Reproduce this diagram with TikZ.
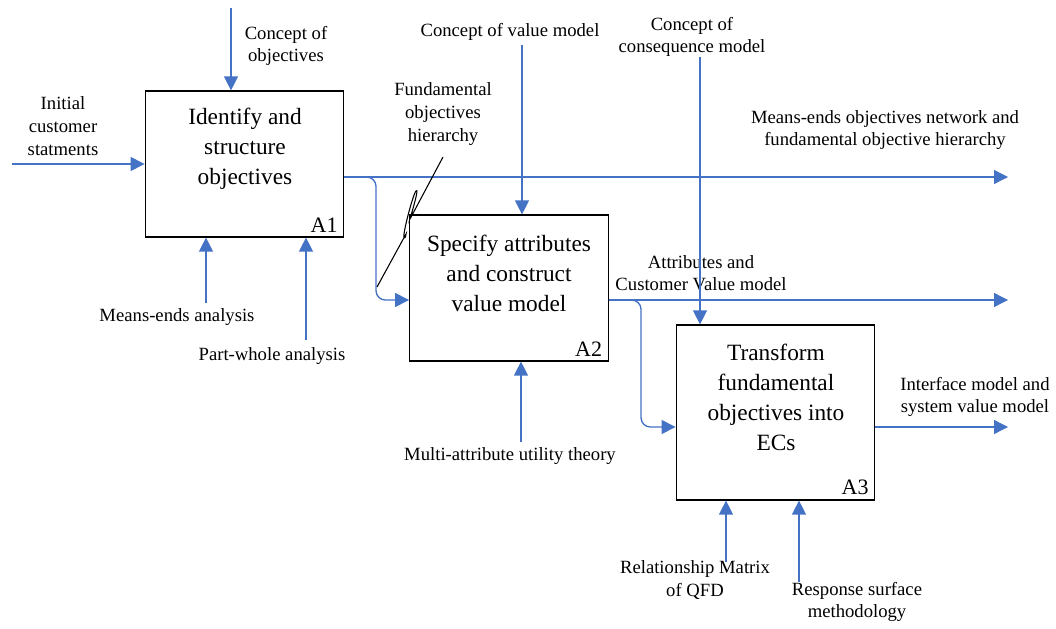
\documentclass[tikz,border=0pt]{standalone}
\usepackage{fontspec}
\setmainfont{Liberation Serif}
\usepackage{xcolor}
\usepackage{tikz}
\usetikzlibrary{arrows.meta}
\definecolor{idefblue}{RGB}{68,114,196}

\begin{document}
\begin{tikzpicture}[
  x=0.75pt, y=-0.75pt,
  procbox/.style={rectangle, draw=black, line width=0.9pt, minimum width=149pt},
  boxtitle/.style={align=center, font=\fontsize{17.5}{22.5}\selectfont},
  boxid/.style={anchor=south east, inner xsep=5pt, inner ysep=4pt, font=\fontsize{16.5}{18}\selectfont},
  lbl/.style={align=center, font=\fontsize{14}{17}\selectfont},
  flow/.style={-{Triangle[length=10.5pt,width=10.5pt]}, line width=1pt, color=idefblue},
  squiggle/.style={line width=0.8pt, color=black}
]
  \useasboundingbox (0,0) rectangle (1056,628);

  % activity boxes
  \node[procbox, minimum height=109.5pt] (A1) at (244.5,164) {};
  \node[procbox, minimum height=109.5pt] (A2) at (509,288) {};
  \node[procbox, minimum height=131.25pt] (A3) at (775.5,412.5) {};
  \node[boxtitle] (A1t) at (245,149) {Identify and\\structure\\objectives};
  \node[boxtitle] (A2t) at (509,273) {Specify attributes\\and construct\\value model};
  \node[boxtitle] (A3t) at (776,397) {Transform\\fundamental\\objectives into\\ECs};
  \node[boxid] (A1id) at (A1.south east) {A1};
  \node[boxid] (A2id) at (A2.south east) {A2};
  \node[boxid] (A3id) at (A3.south east) {A3};

  % free ends
  \coordinate (in1) at (12,164);
  \coordinate (c1) at (231,8);
  \coordinate (c2) at (522,45);
  \coordinate (c3) at (700,57);
  \coordinate (m1) at (206,303);
  \coordinate (m2) at (306,340);
  \coordinate (m3) at (521,442);
  \coordinate (m4) at (726,562);
  \coordinate (m5) at (799,582);
  \coordinate (o1) at (1008,177);
  \coordinate (o2) at (1008,300);
  \coordinate (o3) at (1008,427);
  \coordinate (b1) at (376,300);
  \coordinate (b2) at (641,427);

  % labels
  \node[lbl] (lin1) at (63,126) {Initial\\customer\\statments};
  \node[lbl] (lc1) at (286,46) {Concept of\\objectives};
  \node[lbl] (lc2) at (510,32) {Concept of value model};
  \node[lbl] (lc3) at (692,37) {Concept of\\consequence model};
  \node[lbl] (lm1) at (177,317) {Means-ends analysis};
  \node[lbl] (lm2) at (272,356) {Part-whole analysis};
  \node[lbl] (lm3) at (510,456) {Multi-attribute utility theory};
  \node[lbl] (lm4) at (695,580) {Relationship Matrix\\of QFD};
  \node[lbl] (lm5) at (857,602) {Response surface\\methodology};
  \node[lbl] (lo1) at (885,130) {Means-ends objectives network and\\fundamental objective hierarchy};
  \node[lbl] (lo2) at (701,273) {Attributes and\\Customer Value model};
  \node[lbl] (lo3) at (975,397) {Interface model and\\system value model};
  \node[lbl] (lb1) at (443,114) {Fundamental\\objectives\\hierarchy};

  % arrows
  \draw[flow] (in1) -- (in1 -| A1.west);
  \draw[flow] (c1) -- (c1 |- A1.north);
  \draw[flow] (c2) -- (c2 |- A2.north);
  \draw[flow] (c3) -- (c3 |- A3.north);
  \draw[flow] (m1) -- (m1 |- A1.south);
  \draw[flow] (m2) -- (m2 |- A1.south);
  \draw[flow] (m3) -- (m3 |- A2.south);
  \draw[flow] (m4) -- (m4 |- A3.south);
  \draw[flow] (m5) -- (m5 |- A3.south);
  \draw[flow] (o1 -| A1.east) -- (o1);
  \draw[flow] (o2 -| A2.east) -- (o2);
  \draw[flow] (o3 -| A3.east) -- (o3);
  \draw[flow, rounded corners=7pt] (o1 -| A1.east) -| (b1) -- (b1 -| A2.west);
  \draw[flow, rounded corners=7pt] (o2 -| A2.east) -| (b2) -- (b2 -| A3.west);

  % squiggle to the branch
  \draw[squiggle] (443,157) -- (410,219) .. controls (414,205) and (419,188) .. (416,191)
    .. controls (413,194) and (402,236) .. (404,238)
    .. controls (405,239) and (406,236) .. (406,234) -- (377,287);
\end{tikzpicture}
\end{document}
